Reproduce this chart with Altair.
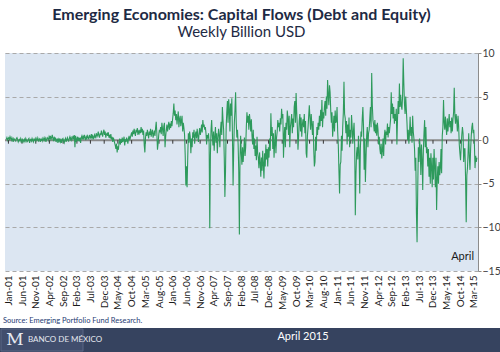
import altair as alt
import pandas as pd

# ---------------- data (weekly, billion USD) ----------------
y2000 = [0.1, 0.3, 0.0, 0.2]
y2001 = [0.3,0.1,0.4,0.2, 0.0,0.3,0.1,-0.2, 0.2,0.1,0.0,-0.1, 0.2,0.3,0.1,-0.2,
         0.0,0.1,-0.1,0.2, 0.0,-0.3,0.1,0.0, -0.2,0.1,-0.1,0.2, 0.0,-0.2,-0.1,0.1,
         0.2,-0.3,0.0,0.1, -0.1,0.2,0.0,-0.2, 0.1,0.0,0.2,-0.1, 0.1,0.3,0.0,-0.1,
         0.2,0.1,-0.2,0.1]
y2002 = [0.0,0.2,-0.1,0.1, 0.3,0.0,0.2,-0.2, 0.1,0.3,0.2,0.0, 0.4,0.2,0.5,0.1,
         0.3,0.6,0.2,-0.1, 0.4,0.1,0.3,-0.2, 0.0,0.2,-0.3,0.1, -0.1,0.2,-0.2,0.0,
         -0.3,0.1,0.2,-0.1, -0.3,0.0,0.2,-0.2, 0.1,0.3,0.0,-0.1, 0.2,0.4,0.1,0.3,
         0.0,0.2,0.5,0.1]
y2003 = [0.6,-0.8,0.5,-0.2, 0.1,0.4,-0.1,0.2, 0.0,0.3,-0.3,0.3, 0.5,0.1,0.4,0.2,
         0.6,0.3,0.0,0.4, 0.2,0.5,0.3,0.1, 0.6,0.4,0.2,0.7, 0.3,0.5,0.1,0.4,
         0.6,0.2,0.5,0.8, 0.4,0.6,1.0,0.5, 0.3,0.8,0.6,1.1, 0.7,0.4,0.9,1.2,
         0.6,1.0,0.3,0.7]
y2004 = [0.8,0.5,0.9,0.3, 0.6,0.2,0.7,0.1, 0.4,-0.2,0.3,0.0, -0.3,-0.6,-1.0,-0.4,
         -1.4,-0.7,-1.1,-0.3, 0.2,-0.5,0.1,-0.3, 0.3,-0.2,0.0,0.4, -0.6,0.1,-0.2,0.3,
         0.0,-0.4,0.2,0.5, 0.0,0.3,0.6,0.9, 0.4,1.1,0.7,1.3, 0.8,0.5,1.2,0.9,
         1.4,0.6,1.0,0.8]
y2005 = [1.2,0.8,1.5,0.9, 1.3,0.6,1.1,-0.6, -1.4,0.3,0.9,0.5, 1.2,0.7,0.2,1.0,
         0.6,1.3,0.4,0.9, 1.2,0.3,0.7,1.1, 0.5,1.4,2.1,0.8, -1.1,-0.4,0.6,1.2,
         0.9,1.5,0.7,2.0, 1.3,0.5,1.6,2.0, -0.8,0.4,1.2,1.8, 1.0,1.6,2.1,1.2,
         1.9,1.4,2.2,1.6]
y2006 = [2.4,3.1,4.2,2.8, 3.4,2.3,3.0,1.8, 2.6,3.3,1.5,2.4, 2.8,1.6,2.2,2.8,
         1.0,2.0,1.4,0.6, -1.7,-5.2,-3.0,-5.4, -2.1,0.8,-0.3,1.0, 0.4,-1.5,0.2,-0.8,
         0.9,0.3,1.2,-0.4, 0.6,1.0,0.2,1.3, 0.5,-0.2,0.8,1.4, 0.6,1.1,1.8,0.9,
         2.3,1.5,1.8,1.2]
y2007 = [1.5,0.8,-0.5,0.6, 0.2,0.8,-0.4,-10.1, -1.8,1.2,2.3,0.5, -0.6,1.0,-1.2,0.4,
         1.5,-0.3,0.8,-1.5, 0.2,1.3,0.6,-0.8, 1.1,2.1,0.6,3.8, 2.3,1.2,-2.0,-6.5,
         -3.5,1.4,3.2,4.5, 2.0,4.7,3.6,1.0, 4.2,2.8,4.8,0.5, -5.2,-1.0,2.0,3.5,
         5.5,2.0,0.3,1.2]
y2008 = [-0.5,-3.5,-10.8,-2.0, 0.5,-1.5,-2.8,-0.8, -2.5,-1.2,0.3,-1.8, -0.8,1.5,3.2,2.0,
         2.8,1.2,3.0,2.2, 1.0,2.4,0.5,-0.5, 1.2,-1.0,0.2,-1.8, -0.6,-2.3,0.4,-1.5,
         -2.0,-3.2,-1.4,-2.6, -4.2,-2.0,-3.5,-1.2, -2.8,-4.4,-1.5,-3.0, -0.5,-2.2,-1.0,-3.0,
         -0.8,-2.0,0.2,-1.2]
y2009 = [3.1,0.5,1.5,-1.0, 0.8,-2.0,-0.5,1.2, -1.5,0.3,1.0,2.3, 1.5,2.0,1.0,2.5,
         1.8,3.6,2.5,3.0, -2.0,0.5,1.5,-0.8, 2.0,1.2,3.4,2.5, 0.6,2.8,-0.8,1.5,
         2.2,3.0,0.8,2.5, 1.5,3.8,4.5,2.0, 5.4,3.2,1.5,-1.1, 0.4,2.2,3.0,1.0,
         2.6,0.4,1.8,2.4]
y2010 = [1.5,3.0,0.8,2.2, -1.5,-2.0,0.5,1.5, 2.8,4.0,2.5,1.2, 3.0,1.8,0.6,2.2,
         -1.0,-3.0,-2.5,0.4, -1.2,1.5,0.6,2.0, 1.2,2.8,1.6,3.5, 2.2,4.6,1.5,3.2,
         2.5,3.8,4.5,2.8, 5.0,3.6,6.9,5.2, 4.0,6.3,5.5,3.4, 2.0,3.2,0.4,1.5,
         2.8,1.0,3.4,2.0]
y2011 = [2.2,3.8,1.0,-0.6, -3.5,-6.1,-2.8,-2.5, 0.5,-1.2,1.5,3.2, 6.7,3.0,2.5,0.8,
         2.2,-0.5,1.8,0.4, 2.6,-0.8,1.2,0.3, 2.9,1.5,-0.4,1.0, 2.0,-0.5,-8.6,-4.0,
         -1.5,-0.8,-2.2,0.5, -1.2,-6.1,-1.0,1.0, 0.4,2.5,3.8,1.5, -3.4,0.2,-4.8,-2.0,
         0.5,1.5,-0.8,0.8]
y2012 = [1.2,2.5,3.8,1.5, 7.7,4.0,2.3,1.8, 1.0,2.3,0.8,1.8, 0.5,2.0,1.2,-0.5,
         0.4,-1.0,-1.6,-0.4, -2.1,-1.2,0.2,-1.8, 0.4,1.2,-0.5,1.0, 0.6,1.9,0.3,1.5,
         0.8,1.6,2.4,5.5, 3.0,4.2,2.5,3.8, 1.9,3.0,2.2,3.6, -0.5,2.5,4.5,3.0,
         6.5,3.8,5.2,4.0]
y2013 = [3.5,5.0,9.4,6.5, 4.2,3.0,5.0,3.5, 2.0,0.0,1.2,-0.4, 0.8,2.7,0.5,1.5,
         -0.3,2.8,1.0,0.2, -1.0,-3.5,-2.0,-8.4, -11.7,-6.0,-0.8,-2.5, 0.2,-1.0,-4.0,-0.5,
         -2.2,-5.7,-1.2,0.8, 2.3,-0.8,1.5,-1.5, -0.8,-3.0,-1.0,-4.2, -2.0,-5.0,-1.5,-3.0,
         -5.4,-2.0,-4.5,-1.0]
y2014 = [-3.0,-5.4,-2.0,-8.0, -4.5,-3.0,-5.0,-2.5, -4.0,-3.2,-1.0,-3.8, 0.5,1.5,4.6,2.0,
         1.2,2.7,1.5,0.6, 2.5,1.0,2.0,3.0, 1.5,2.2,0.8,2.6, 1.0,2.4,3.2,6.0,
         2.8,1.9,3.0,2.2, 1.0,2.8,1.6,-0.5, -1.5,-2.3,-0.8,0.6, 1.5,0.8,-2.5,-1.0,
         -1.0,-4.5,-9.4,-4.0]
y2015 = [-3.2,-1.5,0.8,-2.0, -3.4,-1.0,0.5,1.5, 2.0,0.8,1.2,-0.5, -3.2,-1.8,-2.5,-2.0]

tick_dates = [
    (2001, 1), (2001, 6), (2001, 11), (2002, 4), (2002, 9), (2003, 2), (2003, 7),
    (2003, 12), (2004, 5), (2004, 10), (2005, 3), (2005, 8), (2006, 1), (2006, 6),
    (2006, 11), (2007, 4), (2007, 9), (2008, 2), (2008, 7), (2008, 12), (2009, 5),
    (2009, 10), (2010, 3), (2010, 8), (2011, 1), (2011, 6), (2011, 11), (2012, 4),
    (2012, 9), (2013, 2), (2013, 7), (2013, 12), (2014, 5), (2014, 10), (2015, 3),
]

title_text = "Emerging Economies: Capital Flows (Debt and Equity)"
subtitle_text = "Weekly Billion USD"
source_text = "Source: Emerging Portfolio Fund Research."
bank_text = "BANCO DE MÉXICO"
date_text = "April 2015"
corner_text = "April"

# ---------------- tables ----------------
values = (y2000 + y2001 + y2002 + y2003 + y2004 + y2005 + y2006 + y2007 + y2008
          + y2009 + y2010 + y2011 + y2012 + y2013 + y2014 + y2015)
df = pd.DataFrame({
    "date": pd.date_range("2000-12-08", periods=len(values), freq="7D"),
    "flow": values,
})
ticks_df = pd.DataFrame({
    "date": [pd.Timestamp(year=y, month=m, day=1) for y, m in tick_dates]
})
tick_vals = [alt.DateTime(year=y, month=m, date=1) for y, m in tick_dates]

FONT = "Lato"
x_scale = alt.Scale(domain=[alt.DateTime(year=2000, month=11, date=24),
                            alt.DateTime(year=2015, month=4, date=15)])
y_scale = alt.Scale(domain=[-15, 10], nice=False)

x_axis = alt.Axis(values=tick_vals, format="%b-%y", labelAngle=-90,
                  labelFontSize=10, labelColor="#1a1a1a", labelFont=FONT,
                  labelPadding=4, grid=False, domain=False, ticks=False,
                  labelOverlap=False, labelFlush=False, labelBound=False)
y_axis = alt.Axis(orient="right", values=[-15, -10, -5, 0, 5, 10],
                  grid=True, gridDash=[4, 3], gridColor="#a9a9a9",
                  gridWidth=1, domain=True, domainColor="#8c8c8c",
                  ticks=True, tickColor="#8c8c8c", tickSize=3,
                  labelFontSize=10.5, labelColor="#404040", labelFont=FONT,
                  labelPadding=1)

zero = alt.Chart(pd.DataFrame({"v": [0]})).mark_rule(
    color="#8a8a8a", strokeWidth=2).encode(
    y=alt.Y("v:Q", scale=y_scale, axis=y_axis, title=None))

tickmarks = alt.Chart(ticks_df).mark_rule(color="#333333", strokeWidth=1).encode(
    x=alt.X("date:T", scale=x_scale, axis=x_axis, title=None),
    y=alt.datum(0, scale=y_scale),
    y2=alt.datum(-0.4),
)

line = alt.Chart(df).mark_line(color="#2e9a5c", strokeWidth=1.1).encode(
    x=alt.X("date:T", scale=x_scale, axis=x_axis, title=None),
    y=alt.Y("flow:Q", scale=y_scale, axis=y_axis, title=None))

one = pd.DataFrame({"t": [0]})

corner = alt.Chart(pd.DataFrame({"t": [corner_text]})).mark_text(
    align="right", baseline="middle", fontSize=11, font=FONT, color="#1a1a1a"
).encode(text="t:N", x=alt.value(469), y=alt.value(204))

source = alt.Chart(pd.DataFrame({"t": [source_text]})).mark_text(
    align="left", baseline="middle", fontSize=7.5, font=FONT, color="#1f3b73"
).encode(text="t:N", x=alt.value(-2), y=alt.value(268))

footer = alt.Chart(one).mark_rect(color="#36435f").encode(
    x=alt.value(-5), x2=alt.value(495), y=alt.value(275), y2=alt.value(299))
logo_box = alt.Chart(one).mark_rect(color="#414e6d", stroke="#5a6785",
                                    strokeWidth=1).encode(
    x=alt.value(-4), x2=alt.value(78), y=alt.value(276), y2=alt.value(298))
logo = alt.Chart(pd.DataFrame({"t": ["M"]})).mark_text(
    align="center", baseline="middle", fontSize=17, font="DejaVu Serif",
    color="#e6e9f0").encode(text="t:N", x=alt.value(10), y=alt.value(287))
bank = alt.Chart(pd.DataFrame({"t": [bank_text]})).mark_text(
    align="left", baseline="middle", fontSize=8, font=FONT, color="#e6e9f0"
).encode(text="t:N", x=alt.value(23), y=alt.value(287))
date_lbl = alt.Chart(pd.DataFrame({"t": [date_text]})).mark_text(
    align="center", baseline="middle", fontSize=11, font=FONT, color="#ffffff"
).encode(text="t:N", x=alt.value(298), y=alt.value(284))

chart = alt.layer(
    zero, tickmarks, line, corner, source, footer, logo_box, logo, bank, date_lbl
).properties(
    width=473, height=218,
    autosize=alt.AutoSizeParams(type="none"),
    padding={"left": 5, "top": 53, "right": 22, "bottom": 81},
    title=alt.TitleParams(title_text, subtitle=subtitle_text, anchor="middle",
                          frame="group", font=FONT, fontSize=16,
                          fontWeight="bold", color="#1e2a44",
                          subtitleFont=FONT, subtitleFontSize=15,
                          subtitleColor="#1e2a44", subtitlePadding=2, offset=8),
).configure(background="white").configure_view(fill="#dce6f2", stroke=None)

chart.save("out.html", embed_options={"renderer": "svg", "actions": False})
